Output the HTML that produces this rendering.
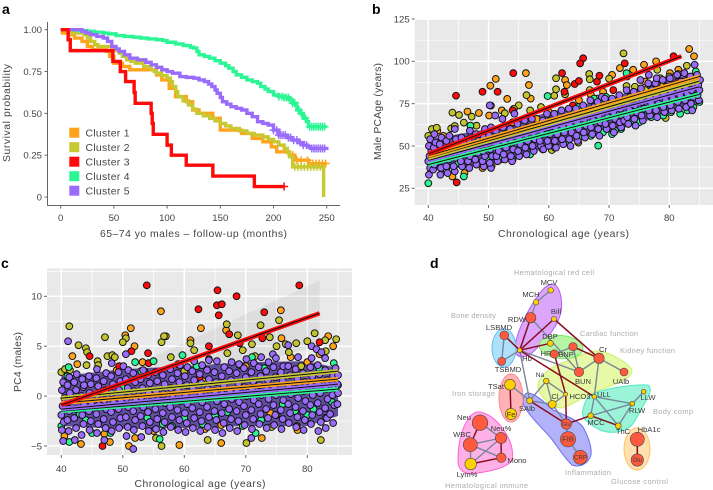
<!DOCTYPE html>
<html lang="en"><head><meta charset="utf-8"><title>Clusters figure</title>
<style>
html,body{margin:0;padding:0;background:#fff}
svg{display:block;font-family:"Liberation Sans",sans-serif}
</style></head>
<body>
<svg id="fig" width="713" height="490" viewBox="0 0 713 490" xmlns="http://www.w3.org/2000/svg">
<g id="pa"></g>
<g id="pb"></g>
<g id="pc"></g>
<g id="pd" font-size="7.6">
<text x="430" y="268" font-size="14" font-weight="700" fill="#000">d</text>
<path d="M553 284C560 286 563 300 561 312C558 326 548 338 533 352C526 358 518 359 515 352C514 340 522 322 530 308C537 296 545 284 553 284Z" fill="#dba6fb" stroke="#b45cf0" stroke-width="1"/>
<ellipse cx="504" cy="348" rx="12" ry="19" fill="#aee0fb" stroke="#64bdf0" stroke-width="1"/>
<path d="M600 351C612 354 628 362 632 370C632 378 622 382 597 391C582 398 572 405 562 408C550 408 540 396 538 387C538 378 548 368 562 363C575 358 590 350 600 351Z" fill="#e6f9a6" stroke="#cdf06a" stroke-width="1"/>
<ellipse cx="561" cy="347" rx="22" ry="11.5" transform="rotate(5 561 347)" fill="#b6f5a4" stroke="#78ea62" stroke-width="1"/>
<path d="M590 395C605 388 635 384 648 385C652 388 650 394 648 397C642 408 636 420 632 425C624 433 610 434 600 430C590 425 580 418 583 410C584 404 586 399 590 395Z" fill="#9cf4d8" stroke="#4eeac0" stroke-width="1"/>
<path d="M527 393C536 393 546 404 553 410C566 416 578 420 583 427C588 436 592 447 591 455C588 464 580 468 572 465C564 458 556 444 550 437C540 426 528 414 524 406C522 400 524 394 527 393Z" fill="#b2b2fb" stroke="#6b6bf0" stroke-width="1"/>
<ellipse cx="511" cy="398" rx="12" ry="24" fill="#ffb3b6" stroke="#f98a8e" stroke-width="1"/>
<path d="M480 412C490 414 498 422 503 429C510 438 514 450 512 460C508 468 488 472 470 474C462 473 458 468 458 460C458 448 460 432 467 421C470 415 475 411 480 412Z" fill="#ffb0e6" stroke="#ff62d0" stroke-width="1"/>
<ellipse cx="637" cy="449" rx="13" ry="21" fill="#ffe0b0" stroke="#ffc25e" stroke-width="1"/>
<g stroke="#78879a" stroke-width="1.4">
<line x1="550.7" y1="290.3" x2="536" y2="302.3"/><line x1="536" y1="302.3" x2="530.7" y2="317.7"/><line x1="530.7" y1="317.7" x2="579" y2="372"/><line x1="504.3" y1="335.3" x2="501.7" y2="361.3"/><line x1="519.7" y1="350.3" x2="501.7" y2="361.3"/><line x1="519.7" y1="350.3" x2="579" y2="372"/><line x1="519.7" y1="350.3" x2="529.7" y2="400.7"/><line x1="554.3" y1="354" x2="573" y2="346.7"/><line x1="573" y1="346.7" x2="579" y2="372"/><line x1="579" y1="372" x2="599" y2="358.3"/><line x1="599" y1="358.3" x2="624" y2="372"/><line x1="599" y1="358.3" x2="594.3" y2="396.7"/><line x1="546.3" y1="381" x2="552.3" y2="404.3"/><line x1="546.3" y1="381" x2="529.7" y2="400.7"/><line x1="546.3" y1="381" x2="565.7" y2="394.3"/><line x1="552.3" y1="404.3" x2="565.7" y2="394.3"/><line x1="529.7" y1="400.7" x2="552.3" y2="404.3"/><line x1="529.7" y1="400.7" x2="510" y2="384.7"/><line x1="552.3" y1="404.3" x2="566.3" y2="424"/><line x1="594.3" y1="396.7" x2="632.3" y2="403.7"/><line x1="594.3" y1="396.7" x2="590.7" y2="415.7"/><line x1="594.3" y1="396.7" x2="618.3" y2="425.7"/><line x1="590.7" y1="415.7" x2="632.3" y2="403.7"/><line x1="632.3" y1="403.7" x2="618.3" y2="425.7"/><line x1="632.3" y1="403.7" x2="643.7" y2="391.7"/><line x1="566.3" y1="424" x2="568" y2="439.3"/><line x1="568" y1="439.3" x2="580.3" y2="457.3"/><line x1="480" y1="422.7" x2="501" y2="438"/><line x1="470.3" y1="444.7" x2="501.3" y2="457.7"/><line x1="501" y1="438" x2="470.7" y2="464"/><line x1="470.3" y1="444.7" x2="470.7" y2="464"/><line x1="470.3" y1="444.7" x2="501" y2="438"/>
</g>
<g stroke="#8c0c1e" stroke-width="1.5">
<line x1="519.7" y1="350.3" x2="530.7" y2="317.7"/><line x1="519.7" y1="350.3" x2="554" y2="319"/><line x1="519.7" y1="350.3" x2="550.3" y2="343.3"/><line x1="519.7" y1="350.3" x2="504.3" y2="335.3"/><line x1="519.7" y1="350.3" x2="594.3" y2="396.7"/><line x1="554" y1="319" x2="599" y2="358.3"/><line x1="573" y1="346.7" x2="599" y2="358.3"/><line x1="554.3" y1="354" x2="565.7" y2="394.3"/><line x1="565.7" y1="394.3" x2="566.3" y2="424"/><line x1="529.7" y1="400.7" x2="566.3" y2="424"/><line x1="566.3" y1="424" x2="590.7" y2="415.7"/><line x1="590.7" y1="415.7" x2="618.3" y2="425.7"/><line x1="480" y1="422.7" x2="470.3" y2="444.7"/><line x1="501" y1="438" x2="501.3" y2="457.7"/><line x1="470.7" y1="464" x2="501.3" y2="457.7"/><line x1="510" y1="384.7" x2="511" y2="414"/><line x1="637.3" y1="439.3" x2="637.3" y2="460"/>
</g>
<g fill="#ff5a40" stroke="#444" stroke-width=".6">
<circle cx="530.7" cy="317.7" r="5.2"/><circle cx="504.3" cy="335.3" r="4.4"/><circle cx="501.7" cy="361.3" r="4"/><circle cx="554.3" cy="354" r="4.2"/><circle cx="573" cy="346.7" r="4.2"/><circle cx="599" cy="358.3" r="5.2"/><circle cx="579" cy="372" r="4.7"/><circle cx="624" cy="372" r="4"/><circle cx="637.3" cy="439.3" r="7"/><circle cx="637.3" cy="460" r="6.2"/><circle cx="566.3" cy="424" r="5.2"/><circle cx="568" cy="439.3" r="7.6"/><circle cx="580.3" cy="457.3" r="7"/><circle cx="480" cy="422.7" r="7.8"/><circle cx="501" cy="438" r="5.6"/><circle cx="470.3" cy="444.7" r="7"/><circle cx="501.3" cy="457.7" r="4.8"/>
</g>
<g fill="#ffd000" stroke="#444" stroke-width=".6">
<circle cx="550.7" cy="290.3" r="2.8"/><circle cx="536" cy="302.3" r="2.8"/><circle cx="554" cy="319" r="2.6"/><circle cx="519.7" cy="350.3" r="2.3"/><circle cx="550.3" cy="343.3" r="3"/><circle cx="565.7" cy="394.3" r="2"/><circle cx="594.3" cy="396.7" r="2.3"/><circle cx="643.7" cy="391.7" r="2.4"/><circle cx="632.3" cy="403.7" r="2.4"/><circle cx="590.7" cy="415.7" r="2.9"/><circle cx="618.3" cy="425.7" r="2.9"/><circle cx="546.3" cy="381" r="2.8"/><circle cx="552.3" cy="404.3" r="4"/><circle cx="529.7" cy="400.7" r="3"/><circle cx="510" cy="384.7" r="5.4"/><circle cx="511" cy="414" r="5.6"/><circle cx="470.7" cy="464" r="5.8"/>
</g>
<g fill="#3a3a3a" text-anchor="middle">
<text x="549" y="285">MCV</text><text x="531" y="297">MCH</text><text x="517" y="322">RDW</text><text x="556" y="314">Bill</text><text x="499" y="330">LSBMD</text><text x="508" y="372">TSBMD</text><text x="527" y="361">Hb</text><text x="550" y="339">DBP</text><text x="546" y="356">HR</text><text x="566" y="357">BNP</text><text x="603" y="352">Cr</text><text x="583" y="384">BUN</text><text x="621" y="384">UAlb</text><text x="540" y="377" font-size="6.8">Na</text><text x="555" y="399">Cl</text><text x="580" y="399">HCO3</text><text x="604" y="397">ULL</text><text x="648" y="400">LLW</text><text x="637" y="413">RLW</text><text x="596" y="425">MCC</text><text x="623" y="434">ThC</text><text x="649" y="432">HbA1c</text><text x="527" y="411">SAlb</text><text x="496" y="389">TSat</text><text x="511" y="417">Fe</text><text x="464" y="420">Neu</text><text x="501" y="431">Neu%</text><text x="462" y="437">WBC</text><text x="517" y="463">Mono</text><text x="467" y="477">Lym%</text><text x="568" y="441.5">FIB</text><text x="580.5" y="459.5" font-size="6">CRP</text><text x="566.3" y="426" font-size="5.5">Glu</text><text x="637.3" y="462" font-size="6">Glu</text>
</g>
<g fill="#ababab" font-size="7.4">
<text x="514" y="275" textLength="80">Hematological red cell</text><text x="451" y="318" textLength="45">Bone density</text><text x="580" y="336" textLength="58">Cardiac function</text><text x="620" y="353" textLength="55">Kidney function</text><text x="452" y="396" textLength="43">Iron storage</text><text x="653" y="414" textLength="40">Body comp</text><text x="565" y="475" textLength="46">Inflammation</text><text x="611" y="484" textLength="57">Glucose control</text><text x="445" y="488" textLength="83">Hematological immune</text>
</g>
</g>
</svg>
<script>
// Panel a: survival step curves
const survTimes1=[0,8,13,20,25,30,43,46,50,58,65,85,90,95,102,108,118,124,130,143,150,165,170,180,190,198,203,215,220,233,250];
const survVals1=[.98,.97,.95,.93,.90,.88,.87,.84,.80,.78,.76,.76,.73,.70,.65,.60,.57,.52,.50,.47,.40,.40,.38,.35,.33,.30,.27,.25,.22,.20,.20];
const survTimes2=[0,10,22,25,28,32,35,48,52,55,58,62,66,70,78,85,88,90,95,100,103,105,108,110,115,120,124,128,134,140,145,150,155,160,168,175,182,190,195,200,205,210,213,215,218,247,247.1];
const survVals2=[1,.98,.97,.95,.93,.91,.90,.89,.875,.86,.84,.82,.81,.80,.78,.76,.75,.74,.725,.71,.69,.66,.63,.60,.575,.55,.525,.50,.485,.47,.455,.44,.425,.41,.395,.38,.37,.36,.345,.33,.31,.29,.265,.24,.18,.18,0];
const survTimes3=[0,7,9,49,56,61,69,70,85,86,87,100,104,118,143,182,210];
const survVals3=[1,.94,.875,.81,.75,.69,.625,.56,.50,.44,.375,.31,.25,.19,.125,.0625,.0625];
const survTimes4=[0,15,25,32,40,45,52,60,68,75,82,90,96,100,108,115,122,125,128,130,135,140,145,150,155,158,162,165,170,175,180,185,188,192,195,200,205,210,215,218,222,225,228,231,233,250];
const survVals4=[1,.995,.99,.985,.98,.975,.965,.96,.955,.95,.945,.94,.935,.925,.915,.905,.895,.89,.87,.85,.84,.83,.815,.80,.785,.77,.75,.73,.715,.70,.69,.68,.66,.645,.63,.61,.60,.595,.58,.56,.52,.50,.47,.45,.42,.42];
const survTimes5=[0,20,24,28,34,40,44,48,52,55,60,65,72,80,85,90,95,100,105,112,118,125,130,135,139,142,145,147,150,152,156,160,165,170,175,180,185,190,195,200,205,212,218,223,228,232,235,250];
const survVals5=[1,.99,.98,.97,.96,.95,.93,.90,.885,.87,.85,.83,.82,.805,.79,.775,.76,.75,.74,.72,.715,.71,.70,.69,.675,.66,.64,.62,.595,.57,.555,.54,.53,.52,.50,.48,.45,.44,.43,.40,.37,.355,.34,.325,.31,.30,.29,.28];
const censor1=[218,222,226,232,237,240,243,246,249];
const censor2=[220,223,226,229,232,235,238,241,244];
const censor3=[210];
const censor4=[205,208,210,212,214,216,218,220,224,226,230,234,236,238,240,242,244,246,248];
const censor5=[200,203,205,207,209,211,214,216,219,222,225,228,231,236,238,240,242,244,246,248];
const survXTicks=[0,50,100,150,200,250];
const survYTicks=[0,.25,.5,.75,1];
const survYLabels=["0","0.25","0.50","0.75","1.00"];
const clusterNames=["Cluster 1","Cluster 2","Cluster 3","Cluster 4","Cluster 5"];
const clusterColors=["#ffa31a","#c8c832","#ff0a0a","#2cf595","#9a6cfb"];

// Panel b: PCAge points, [age, value]
const bOrange=[[50.3,85.6],[51.2,89.6],[53.1,77.8],[56.2,93],[56.7,86],[57,78],[46.5,70.3],[48.4,69.5],[50.1,68],[52.2,71],[83.3,107.3],[84.1,103],[75.8,98],[77.8,100],[71.8,96],[70.5,92],[74,95],[62.7,89],[63,86],[81.5,95],[80.1,93],[44,32],[78.5,90],[41.5,59],[42.5,56],[46,34],[49,37],[60,70],[67,80],[69,82],[76,88],[79,86],[82,88],[84,90],[65,77],[58,66],[54,64]];
const bYellow=[[44,69.7],[45.1,68.3],[47.2,67.3],[45.9,63.8],[40.6,60],[41.4,60.8],[43.8,60.4],[44.4,61.8],[50.4,73.8],[55,74],[54.2,72],[56.3,80],[56.9,71],[58.7,73],[61.2,90],[61.2,83.5],[60.9,79.7],[62.7,80.5],[66.7,92.5],[66.8,89.4],[70,89.8],[66.8,83],[72.4,104.7],[78,95],[82.9,97.4],[81.5,92.5],[79.4,66.5],[60.5,47.6],[64.9,52],[72.9,85.4],[74.3,85],[52.7,69.3],[40,56],[50.5,38],[73,91],[76,83],[80,91],[84,85],[68,78],[48,62],[59,60]];
const bRed=[[44.6,79.7],[49,82],[51.5,82],[54.1,93],[62.2,93],[65.7,101.8],[65.2,98.8],[64.3,86.6],[65,88.4],[68,88],[68.4,91.5],[72.6,98.8],[80.7,103],[70.7,83],[44.7,28.5],[62.6,82],[64,74],[54,71],[81.5,88]];
const bGreen=[[40,28],[68.2,50.2],[45.9,32],[59.8,79.5],[72.9,93],[84.4,94],[56.9,45],[64.9,73],[41,44],[43,36],[45,40],[47,62],[49,40],[52,42],[54,42],[55,48],[59,48],[61,49],[63,52],[65,55],[67,56],[69,58],[70.5,57],[72,60],[75,64],[77,67],[79,68],[80.3,70],[81.8,69],[83,71],[85,76],[84,73],[67.5,78],[69.5,79],[62,60],[57,50],[50,42],[47.5,46],[42,47],[71,59],[74,65]];
const bPurple=[[40.1,33],[40.3,37],[40,41],[40.2,44],[40.5,47],[40.1,50],[40.3,54],[40.8,36],[41,39],[40.7,43],[41.1,46],[40.9,49],[41.2,52],[41,57],[42,33],[42.1,37],[41.8,41],[42.3,44],[42,48],[41.9,51],[42.2,55],[43.2,34],[43,38],[43.4,42],[43.1,45],[43.3,49],[43,53],[43.5,56],[44.4,35],[44.2,38],[44.5,43],[44.3,46],[44.1,50],[44.6,54],[44.4,60],[45.6,38],[45.4,41],[45.7,45],[45.3,48],[45.8,52],[45.5,55],[46.8,37],[46.6,41],[46.9,44],[46.5,47],[47,51],[46.7,54],[46.9,59],[48,39],[47.8,42],[48.2,46],[48,49],[48.3,53],[47.9,57],[49.2,38],[49,41],[49.4,44],[49.1,47],[49.5,51],[49.2,55],[49.4,60],[50.4,37],[50.2,40],[50.6,44],[50.3,48],[50.7,52],[50.1,56],[50.4,61],[50.2,74],[51.5,41],[51.3,44],[51.7,47],[51.4,51],[51.8,55],[51.2,59],[51.1,68],[52.7,42],[52.5,45],[52.9,49],[52.6,53],[53,57],[52.4,61],[52.3,66],[53.9,41],[53.7,44],[54.1,48],[53.8,52],[54.2,56],[53.6,60],[54.3,69],[55.1,44],[54.9,47],[55.3,51],[55,55],[55.4,59],[54.8,63],[56.3,45],[56.1,49],[56.5,53],[56.2,57],[56.6,61],[56,65],[57.5,47],[57.3,50],[57.7,54],[57.4,58],[57.8,62],[57.2,66],[58.7,50],[58.5,53],[58.9,57],[58.6,61],[59,65],[59.1,48],[60,50],[59.8,53],[60.2,57],[59.9,61],[60.3,65],[59.7,69],[61.2,49],[61,53],[61.4,57],[61.1,61],[61.5,65],[60.9,69],[62.4,51],[62.2,54],[62.6,58],[62.3,62],[62.7,66],[62.1,71],[63.6,50],[63.4,54],[63.8,58],[63.5,62],[63.9,66],[63.3,72],[64.8,53],[64.6,56],[65,60],[64.7,64],[65.1,68],[64.5,72],[66,55],[65.8,58],[66.2,62],[65.9,66],[66.3,70],[65.7,74],[67.2,57],[67,61],[67.4,65],[67.1,69],[67.5,73],[66.9,77],[68.4,56],[68.2,60],[68.6,64],[68.3,68],[68.7,72],[68.1,76],[68.8,79],[69.6,60],[69.4,63],[69.8,67],[69.5,71],[69.9,75],[69.3,78],[70.8,58],[70.6,62],[71,66],[70.7,70],[71.1,74],[70.5,78],[72,61],[71.8,64],[72.2,68],[71.9,72],[72.3,76],[71.7,80],[72.5,65],[73.2,63],[73,67],[73.4,71],[73.1,75],[73.5,79],[72.9,83],[74.4,62],[74.2,66],[74.6,70],[74.3,74],[74.7,78],[74.1,82],[75.6,65],[75.4,68],[75.8,72],[75.5,76],[75.9,80],[75.3,84],[75.2,89],[76.8,68],[76.6,71],[77,75],[76.7,79],[77.1,83],[76.5,87],[76.6,92],[78,67],[77.8,71],[78.2,75],[77.9,79],[78.3,83],[77.7,87],[77.9,90],[79.2,70],[79,73],[79.4,77],[79.1,81],[79.5,85],[78.9,89],[80.4,71],[80.2,74],[80.6,78],[80.3,82],[80.7,86],[80.1,90],[81.6,72],[81.4,76],[81.8,80],[81.5,84],[81.9,88],[81.3,92],[82.8,73],[82.6,77],[83,81],[82.7,85],[83.1,89],[82.5,93],[83.8,71],[83.6,75],[84,79],[83.7,83],[84.1,87],[83.5,91],[84.2,98],[84.9,77],[84.7,80],[85,83],[84.8,86],[85.1,89],[84.6,92]];
const bLineAges=[[40,85],[40,85],[40,82],[40,85],[40,85]];
const bLineVals=[[44.2,91],[43,88.3],[45.3,103],[39,80.5],[41.5,85]];
const bBandAges=[40,50,60,70,80,85];
const bBandLow=[35,39,49,58,69,76];
const bBandHigh=[54,60,70,78,90,92];

// Panel c: PC4 points, [age, value]
const cOrange=[[56.2,8.5],[62.7,6.8],[75.7,8.6],[51.3,6.8],[50.4,6.1],[51.9,5],[57,6],[41.8,4],[42.6,3.2],[53.2,3.4],[61,5.6],[66.8,6.6],[75.8,5.8],[77.3,3.9],[80,3.4],[83.4,6],[84.2,5],[43.2,-4.8],[47.9,-4.6],[51,-5],[59.2,-4.9],[66,-4.7],[72.6,-4.2],[78.3,-3],[78.4,-3.4],[40.5,-4],[63.4,-3.3],[66,-2.9],[49,2.6],[63,1.5],[70,3],[55,-3.5],[52,-4.2],[74,-1.7],[47,-3.8],[82,4.2]];
const cYellow=[[41.3,7],[47.1,5.9],[42.8,5.1],[44,4.8],[44.2,4.4],[50.5,5.8],[50,5.4],[47.5,4],[48.3,4.1],[48.7,3.9],[56.3,5.4],[56.7,6],[57.8,3.9],[61.6,4.6],[66.9,7.2],[68.7,6.1],[72.4,7.1],[75.4,7.6],[81.2,6.3],[84.7,5.7],[78.2,5.3],[40,2.4],[40.6,2.7],[41.4,2.6],[45.9,3.5],[44.1,3.1],[82.2,-4.4],[70.1,-4.7],[63.8,-4.4],[56.3,-5],[55.4,-4.2],[74.2,-3.1],[82.9,5.6],[73.9,5.9],[75,5],[61,5.3],[64,3.7],[67,4.3],[69.5,4.6],[71,5.2],[76.5,5.2],[80,5.5],[83,4.5],[59,3.2],[53.5,2.5],[71.5,4],[77,4.4],[79,3],[46,3.1],[60,2.5]];
const cRed=[[53.9,11.1],[65.4,10.6],[68.5,10],[78.7,11.1],[65.3,9.1],[66.1,9.2],[65.6,8.1],[62.3,8.7],[73,8.4],[44.6,4],[51.4,4.5],[54.1,4.3],[54.2,3.3],[49.4,3],[64,5],[67.3,6.2],[69,5.3],[72.7,5.8],[82,5.4],[46.7,-5],[62.5,1.9]];
const cGreen=[[41.2,2.9],[55,3.5],[59.7,4.1],[84.3,3.3],[69.5,-3],[71.6,-3.7],[41.3,-4.6],[40,-3],[40.5,1.2],[41,2],[43,-1.8],[45,-3.7],[48,-3.7],[50,.8],[52,3.4],[54,-2.2],[56,-4.3],[56.5,-2.8],[60,-2.2],[62,3],[65,-2],[67,-1.6],[69,3.1],[71,3.9],[72.5,-2.4],[75,-1.9],[78,-1.5],[80,-1.9],[82,2.7],[84,-.6],[44,-2.4],[47,-1],[53,2.5],[58,-3],[63,-2.8],[73,2.8],[76,-.8],[81,-1.3],[83,-2.2],[85,1.1]];
const cPurple=[[40.3,-4.5],[40.1,-3.4],[40.4,-2.6],[40,-1.9],[40.2,-1],[40.5,-.2],[40.1,.6],[40.3,1.4],[41.1,5.5],[41.2,-3.5],[41,-2.4],[41.3,-1.5],[41.1,-.6],[41.4,.3],[41,1.1],[41.3,1.9],[42.2,-4.4],[42.4,-3.2],[42.1,-2.2],[42.5,-1.3],[42.2,-.3],[42.4,.6],[42.1,1.4],[42.5,2.2],[43.3,-3.9],[43.6,-2.8],[43.4,-1.9],[43.7,-.9],[43.3,0],[43.6,.9],[43.4,1.7],[43.7,1.1],[44.6,-3.4],[44.8,-2.5],[44.5,-1.5],[44.9,-.6],[44.6,.3],[44.8,1.2],[44.5,2],[45.8,-3.7],[46,-2.8],[45.7,-1.8],[46.1,-.9],[45.8,.1],[46,1],[45.7,1.8],[45.8,2.7],[47,-4.4],[47.2,-3.2],[46.9,-2.3],[47.3,-1.3],[47,-.4],[47.2,.6],[46.9,1.5],[47.3,2.3],[48.2,-3.5],[48.4,-2.6],[48.1,-1.6],[48.5,-.7],[48.2,.3],[48.4,1.2],[48.1,2],[48.2,3.3],[49.4,-3.2],[49.6,-2.2],[49.3,-1.3],[49.7,-.4],[49.4,.6],[49.6,1.5],[49.3,2.4],[50.1,3],[50.5,4.2],[50.6,-4],[50.8,-3.1],[50.5,-2.1],[50.9,-1.1],[50.6,-.2],[50.8,.8],[50.5,1.7],[50.9,2.6],[51.7,-5.3],[51.8,-3.4],[52,-2.4],[51.7,-1.5],[52.1,-.5],[51.8,.5],[52,1.4],[51.7,2.3],[53,-4.1],[53.2,-3],[52.9,-2],[53.3,-1.1],[53,-.1],[53.2,.8],[52.9,1.7],[53.3,2.6],[54.2,-3.5],[54.4,-2.6],[54.1,-1.6],[54.5,-.6],[54.2,.3],[54.4,1.3],[54.1,2.1],[55.4,-3.3],[55.6,-2.3],[55.3,-1.3],[55.7,-.4],[55.4,.5],[55.6,1.5],[55.3,2.4],[56.6,-3.6],[56.8,-2.6],[56.5,-1.7],[56.9,-.7],[56.6,.2],[56.8,1.2],[56.5,2.1],[57.8,-3.1],[58,-2.1],[57.7,-1.1],[58.1,-.2],[57.8,.8],[58,1.7],[57.7,2.7],[59,-3.4],[59.2,-2.4],[58.9,-1.4],[59.3,-.5],[59,.5],[59.2,1.4],[58.9,2.3],[59.3,3.1],[60.2,-3.6],[60.4,-2.7],[60.1,-1.7],[60.5,-.8],[60.2,.2],[60.4,1.1],[60.1,2],[60.5,2.9],[61.4,-3.2],[61.6,-2.2],[61.3,-1.2],[61.7,-.3],[61.4,.7],[61.6,1.6],[61.3,2.5],[61.6,3.5],[62.6,-3.5],[62.8,-2.5],[62.5,-1.6],[62.9,-.6],[62.6,.4],[62.8,1.3],[62.5,2.2],[62.9,3.1],[63.8,-3.1],[64,-2.1],[63.7,-1.1],[64.1,-.2],[63.8,.7],[64,1.7],[63.7,2.6],[64,3.6],[65,-3.4],[65.2,-2.4],[64.9,-1.5],[65.3,-.5],[65,.5],[65.2,1.4],[64.9,2.4],[65.3,3.5],[66.2,-3.7],[66.4,-2.7],[66.1,-1.7],[66.5,-.8],[66.2,.2],[66.4,1.1],[66.1,2],[66.5,2.9],[67.4,-3.2],[67.6,-2.3],[67.3,-1.3],[67.7,-.3],[67.4,.6],[67.6,1.6],[67.3,2.5],[67.7,3.4],[68.6,-3.5],[68.8,-2.5],[68.5,-1.5],[68.9,-.6],[68.6,.4],[68.8,1.3],[68.5,2.3],[68.9,3.2],[69.8,-2.9],[70,-1.9],[69.7,-1],[70.1,0],[69.8,.9],[70,1.9],[69.7,2.8],[70.1,3.7],[70.9,-4.2],[71,-3.3],[71.2,-2.3],[70.9,-1.4],[71.3,-.4],[71,.6],[71.2,1.5],[70.9,2.4],[71.3,3.3],[72.2,-2.8],[72.4,-1.8],[72.1,-.8],[72.5,.1],[72.2,1.1],[72.4,2],[72.1,2.9],[72.5,3.9],[73.4,-3.2],[73.6,-2.2],[73.3,-1.3],[73.7,-.3],[73.4,.6],[73.6,1.6],[73.3,2.5],[73.7,3.4],[74.4,4.2],[74.6,-2.9],[74.8,-1.9],[74.5,-.9],[74.9,.1],[74.6,1],[74.8,1.9],[74.5,2.9],[74.9,3.8],[75.8,-3.3],[76,-2.3],[75.7,-1.4],[76.1,-.4],[75.8,.5],[76,1.5],[75.7,2.4],[76.1,3],[76.9,5.1],[77,-2.7],[77.2,-1.7],[76.9,-.8],[77.3,.2],[77,1.1],[77.2,2.1],[76.9,3],[78.5,3.9],[78.2,-3.1],[78.4,-2.1],[78.1,-1.1],[78.5,-.2],[78.2,.7],[78.4,1.7],[78.1,2.7],[79.4,-3.4],[79.6,-2.4],[79.3,-1.5],[79.7,-.5],[79.4,.5],[79.6,1.4],[79.3,2.3],[80.7,5],[80.6,-2.8],[80.8,-1.9],[80.5,-.9],[80.9,.1],[80.6,1],[80.8,2],[80.5,2.9],[80.7,3.8],[81.5,4.7],[82.2,-2.6],[81.8,-3.5],[82,-1.6],[81.7,-.7],[82.1,.3],[81.8,1.2],[82,2.2],[81.7,3.1],[82.3,4.4],[82.9,3.8],[83,-3.2],[83.2,-2.2],[82.9,-1.2],[83.3,-.3],[83,.7],[83.2,1.6],[82.9,2.6],[84.2,-2.7],[83.7,-1.8],[84.4,-.9],[84.1,.1],[84.5,1],[84.2,2],[84.6,2.8],[84.9,-.8],[85,.3],[84.9,1.2],[85,2.1]];
const cLineAges=[[40,85],[40,85],[40,82],[40,85],[40,85]];
const cLineVals=[[-.7,1.7],[-.2,2.5],[-.9,8.3],[-1.5,.7],[-1.3,1.2]];
const cBandAges=[40,50,60,70,80,85];
const cBandLow=[-3,-3.3,-3.2,-3,-3,-2];
const cBandHigh=[2,2.7,3,3.4,3.5,2.8];
const ribbonAges=[40,82];
const ribbonLow=[-1.5,5];
const ribbonHigh=[-.3,11.6];
const bXTicks=[40,50,60,70,80];
const bYTicks=[25,50,75,100,125];
const cXTicks=[40,50,60,70,80];
const cYTicks=[-5,0,5,10];
const NS="http://www.w3.org/2000/svg";
function mk(parent,tag,attrs){
  const e=document.createElementNS(NS,tag);
  for(const k in attrs){e.setAttribute(k,attrs[k]);}
  parent.appendChild(e);
  return e;
}
function txt(parent,str,attrs,name){
  const e=mk(parent,"text",attrs);
  e.textContent=str;
  
  
  return e;
}
// ---------- panel a ----------
(function(){
  const g=document.getElementById("pa");
  const X=t=>60.7+t*1.064, Y=s=>197-s*167.3;
  txt(g,"a",{x:2,y:14,"font-size":14,"font-weight":700,fill:"#000"},"panel-label-a");
  const ax=mk(g,"path",{d:"M47.5 22V205.5H340",fill:"none",stroke:"#666","stroke-width":1});
  
  
  survXTicks.forEach(t=>{
    mk(g,"line",{x1:X(t),x2:X(t),y1:205.5,y2:208.5,stroke:"#666"});
    txt(g,String(t),{x:X(t),y:221,"text-anchor":"middle","font-size":9.6,fill:"#444"},"x-tick-label");
  });
  survYTicks.forEach((s,i)=>{
    mk(g,"line",{x1:44.5,x2:47.5,y1:Y(s),y2:Y(s),stroke:"#666"});
    txt(g,survYLabels[i],{x:42,y:Y(s)+3.4,"text-anchor":"end","font-size":9.6,fill:"#444"},"y-tick-label");
  });
  txt(g,"65–74 yo males – follow-up (months)",{x:100,y:237,"font-size":10.4,fill:"#444",textLength:187},"x-axis-title");
  txt(g,"Survival probability",{x:0,y:0,transform:"translate(10,162) rotate(-90)","font-size":10.4,fill:"#444",textLength:98},"y-axis-title");
  const times=[survTimes1,survTimes2,survTimes3,survTimes4,survTimes5];
  const vals=[survVals1,survVals2,survVals3,survVals4,survVals5];
  const cens=[censor1,censor2,censor3,censor4,censor5];
  [0,1,3,4,2].forEach(i=>{
    let d="M"+X(times[i][0])+" "+Y(vals[i][0]);
    for(let k=1;k<times[i].length;k++){d+="H"+X(times[i][k])+"V"+Y(vals[i][k]);}
    const p=mk(g,"path",{d:d,fill:"none",stroke:clusterColors[i],"stroke-width":3.4});
    
    
    cens[i].forEach(t=>{
      let s=vals[i][0];
      for(let k=0;k<times[i].length;k++){if(times[i][k]<=t){s=vals[i][k];}}
      mk(g,"path",{d:"M"+X(t)+" "+(Y(s)-4)+"v8M"+(X(t)-4)+" "+Y(s)+"h8",stroke:clusterColors[i],"stroke-width":1.5,fill:"none"});
    });
  });
  clusterNames.forEach((n,i)=>{
    const y=132.7+i*14.5;
    const r=mk(g,"rect",{x:69.3,y:y-5,width:10,height:10,fill:clusterColors[i]});
    
    
    txt(g,n,{x:85.5,y:y+3.7,"font-size":10.4,fill:"#444",textLength:44},"legend-entry");
  });
})();
// ---------- scatter panels ----------
function scatter(cfg){
  const g=cfg.g, X=cfg.X, Y=cfg.Y;
  const bg=mk(g,"rect",{x:cfg.l,y:cfg.t,width:cfg.r-cfg.l,height:cfg.b-cfg.t,fill:"#e9e9e9"});
  
  
  cfg.xt.forEach(v=>{
    mk(g,"line",{x1:X(v),x2:X(v),y1:cfg.t,y2:cfg.b,stroke:"#fff","stroke-width":1.5});
    mk(g,"line",{x1:X(v+5),x2:X(v+5),y1:cfg.t,y2:cfg.b,stroke:"#fff","stroke-width":.7});
    mk(g,"line",{x1:X(v),x2:X(v),y1:cfg.b,y2:cfg.b+3,stroke:"#666"});
    txt(g,String(v),{x:X(v),y:cfg.b+cfg.xl,"text-anchor":"middle","font-size":9.6,fill:"#444"},"x-tick-label");
  });
  const step=cfg.yt[1]-cfg.yt[0];
  cfg.yt.forEach(v=>{
    if(Y(v)>=cfg.t-1){mk(g,"line",{x1:cfg.l,x2:cfg.r,y1:Y(v),y2:Y(v),stroke:"#fff","stroke-width":1.5});}
    if(Y(v+step/2)>cfg.t){mk(g,"line",{x1:cfg.l,x2:cfg.r,y1:Y(v+step/2),y2:Y(v+step/2),stroke:"#fff","stroke-width":.7});}
    mk(g,"line",{x1:cfg.l-3,x2:cfg.l,y1:Y(v),y2:Y(v),stroke:"#666"});
    txt(g,String(v).replace("-","−"),{x:cfg.l-5,y:Y(v)+3.4,"text-anchor":"end","font-size":9.6,fill:"#444"},"y-tick-label");
  });
  if(cfg.ribbon){cfg.ribbon();}
  let pts=cfg.bandAges.map((a,i)=>X(a)+","+Y(cfg.bandHigh[i])).join(" ");
  pts+=" "+cfg.bandAges.map((a,i)=>X(a)+","+Y(cfg.bandLow[i])).reverse().join(" ");
  const band=mk(g,"polygon",{points:pts,fill:"#5f4f9c"});
  
  
  cfg.sets.forEach((set,i)=>{
    set.forEach(p=>{
      const c=mk(g,"circle",{cx:X(p[0]),cy:Y(p[1]),r:3.4,fill:cfg.colors[i],stroke:"#111","stroke-width":.95});
      
      
    });
  });
  cfg.order.forEach(i=>{
    const a=cfg.ages[i], v=cfg.vals[i];
    const l=mk(g,"line",{x1:X(a[0]),y1:Y(v[0]),x2:X(a[1]),y2:Y(v[1]),stroke:clusterColors[i],"stroke-width":i==2?4.4:4.2});
    
    
    mk(g,"line",{x1:X(a[0]),y1:Y(v[0]),x2:X(a[1]),y2:Y(v[1]),stroke:"#111","stroke-width":1});
  });
}
(function(){
  const g=document.getElementById("pb");
  txt(g,"b",{x:372,y:14,"font-size":14,"font-weight":700,fill:"#000"},"panel-label-b");
  scatter({g:g,X:a=>428.3+(a-40)*6.025,Y:v=>188.3-(v-25)*1.693,l:414.7,r:713,t:19,b:205,xl:16,
    xt:bXTicks,yt:bYTicks,sets:[bOrange,bYellow,bRed,bGreen,bPurple],
    colors:["#ffa31a","#c4c42e","#ff0a0a","#2cf595","#9a6cfb"],order:[3,4,1,0,2],ages:bLineAges,vals:bLineVals,
    bandAges:bBandAges,bandLow:bBandLow,bandHigh:bBandHigh});
  txt(g,"Chronological age (years)",{x:498,y:237,"font-size":10.4,fill:"#444",textLength:131},"x-axis-title");
  txt(g,"Male PCAge (years)",{x:0,y:0,transform:"translate(381,160) rotate(-90)","font-size":10.4,fill:"#444",textLength:97},"y-axis-title");
})();
(function(){
  const g=document.getElementById("pc");
  txt(g,"c",{x:1,y:268,"font-size":14,"font-weight":700,fill:"#000"},"panel-label-c");
  const X=a=>61.3+(a-40)*6.15, Y=v=>396.1-v*9.98;
  scatter({g:g,X:X,Y:Y,l:47,r:352,t:268.3,b:455,xl:17,xt:cXTicks,yt:cYTicks,
    sets:[cOrange,cYellow,cRed,cGreen,cPurple],colors:["#ffa31a","#c4c42e","#ff0a0a","#2cf595","#9a6cfb"],
    order:[3,4,0,1,2],ages:cLineAges,vals:cLineVals,bandAges:cBandAges,bandLow:cBandLow,bandHigh:cBandHigh,
    ribbon:function(){
      const p=mk(g,"polygon",{points:X(ribbonAges[0])+","+Y(ribbonLow[0])+" "+X(ribbonAges[1])+","+Y(ribbonLow[1])+" "+X(ribbonAges[1])+","+Y(ribbonHigh[1])+" "+X(ribbonAges[0])+","+Y(ribbonHigh[0]),fill:"#000","fill-opacity":.05});
      
      
    }});
  txt(g,"Chronological age (years)",{x:134.5,y:487,"font-size":10.4,fill:"#444",textLength:131},"x-axis-title");
  txt(g,"PC4 (males)",{x:0,y:0,transform:"translate(21,392) rotate(-90)","font-size":10.4,fill:"#444",textLength:60},"y-axis-title");
})();
</script>
</body></html>
